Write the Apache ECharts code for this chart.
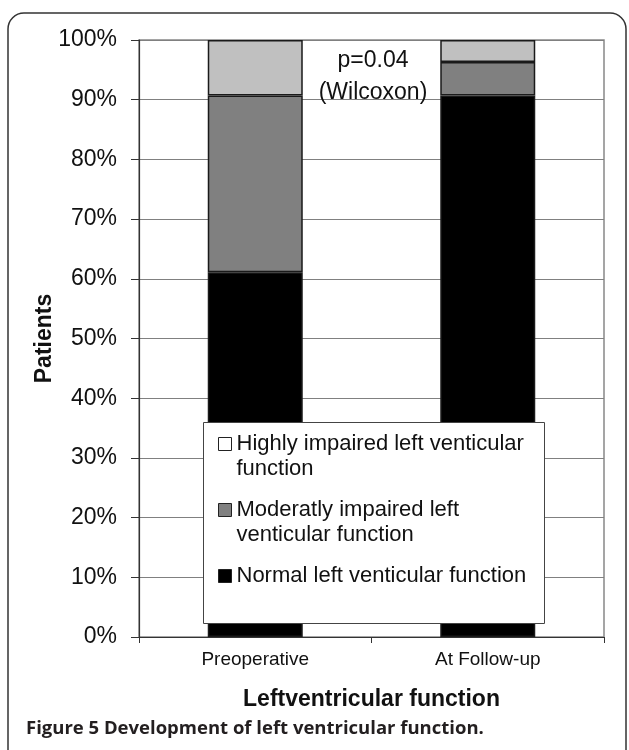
<!DOCTYPE html>
<html><head><meta charset="utf-8">
<script src="https://cdn.jsdelivr.net/npm/echarts@6/dist/echarts.min.js"></script>
<style>html,body{margin:0;padding:0;background:#fff}#c{width:629px;height:750px}</style>
</head><body><div id="c"></div>
<script>
// ---- data ----
const categories = ['Preoperative', 'At Follow-up'];
const seriesNames = [
  'Normal left venticular function',
  'Moderatly impaired left venticular function',
  'Highly impaired left venticular function'
];
const normalValues = [61.1, 90.7];
const moderateValues = [29.6, 5.6];
const highlyValues = [9.3, 3.7];
const legendLines = [
  'Normal left venticular function',
  'Moderatly impaired left\nventicular function',
  'Highly impaired left venticular\nfunction'
];
const yMin = 0, yMax = 100, yStep = 10;
const annotationText = 'p=0.04\n(Wilcoxon)';
const captionBold = 'Figure 5';
const captionRest = ' Development of left ventricular function.';
const xTitle = 'Leftventricular function';
const yTitle = 'Patients';

// ---- chart ----
const FONT = '"Liberation Sans", Arial, sans-serif';
const colors = ['#000000', '#808080', '#c0c0c0'];
const legendIconColors = ['#000000', '#808080', '#ffffff'];
const seriesValues = [normalValues, moderateValues, highlyValues];

const chart = echarts.init(document.getElementById('c'), null, {renderer: 'canvas'});
const wrapMap = {};
// every entry is padded to three lines with the first text line in the middle,
// so the icon sits beside the first text line and all items share the same offset
seriesNames.forEach((n, i) => {
  wrapMap[n] = legendLines[i].indexOf('\n') >= 0 ? '\n' + legendLines[i] : '\n' + legendLines[i] + '\n';
});

const legendData = [2, 1, 0].map(i => ({
  name: seriesNames[i],
  itemStyle: {color: legendIconColors[i], borderColor: '#222', borderWidth: 1}
}));

chart.setOption({
  animation: false,
  backgroundColor: '#fff',
  title: {
    left: 26, top: 719, padding: 0,
    text: '{b|' + captionBold + '}{r|' + captionRest + '}',
    textStyle: {
      rich: {
        b: {fontFamily: '"Open Sans", sans-serif', fontWeight: 'bold', fontSize: 18.5, color: '#231f20'},
        r: {fontFamily: '"Open Sans", sans-serif', fontSize: 18.5, color: '#231f20'}
      }
    }
  },
  grid: {
    left: 139, right: 25, top: 40, bottom: 113,
    show: true, borderColor: '#888', borderWidth: 1.5, backgroundColor: 'transparent'
  },
  legend: {
    orient: 'vertical',
    left: 218, top: 406.5,
    padding: 0,
    itemGap: -9,
    itemWidth: 13, itemHeight: 13,
    selectedMode: false,
    icon: 'rect',
    z: 6,
    data: legendData,
    formatter: name => wrapMap[name],
    textStyle: {fontFamily: FONT, fontSize: 22, lineHeight: 25, color: '#111'}
  },
  xAxis: {
    type: 'category',
    data: categories,
    name: xTitle,
    nameLocation: 'middle',
    nameGap: 51,
    nameMoveOverlap: false,
    nameTextStyle: {fontFamily: FONT, fontSize: 23, fontWeight: 'bold', color: '#111'},
    axisLine: {lineStyle: {color: '#333', width: 1}},
    axisTick: {show: true, length: 6, lineStyle: {color: '#333'}},
    axisLabel: {fontFamily: FONT, fontSize: 19, color: '#111', margin: 13}
  },
  yAxis: {
    type: 'value',
    min: yMin, max: yMax, interval: yStep,
    name: yTitle,
    nameLocation: 'middle',
    nameRotate: 90,
    nameGap: 83,
    nameMoveOverlap: false,
    nameTextStyle: {fontFamily: FONT, fontSize: 23, fontWeight: 'bold', color: '#111'},
    axisLine: {show: true, lineStyle: {color: '#333', width: 1.2}},
    axisTick: {show: true, length: 8, lineStyle: {color: '#333'}},
    axisLabel: {fontFamily: FONT, fontSize: 23, color: '#111', margin: 22, formatter: '{value}%'},
    splitLine: {lineStyle: {color: '#808080', width: 1}}
  },
  series: seriesNames.map((n, i) => ({
    name: n,
    type: 'bar',
    stack: 'total',
    barWidth: 95,
    data: seriesValues[i],
    itemStyle: {color: colors[i], borderColor: '#1a1a1a', borderWidth: 1.5}
  })),
  graphic: [
    {
      type: 'rect', silent: true, z: 100,
      shape: {x: 8, y: 13, width: 618, height: 820, r: 16},
      style: {fill: 'none', stroke: '#333', lineWidth: 1.5}
    },
    {
      type: 'rect', silent: true, z: 5,
      shape: {x: 203.5, y: 422.5, width: 341, height: 201},
      style: {fill: '#fff', stroke: '#444', lineWidth: 1}
    },
    {
      type: 'text', z: 50,
      x: 373, y: 45,
      style: {
        text: annotationText,
        fontFamily: FONT, fontSize: 23, lineHeight: 32,
        fill: '#111', align: 'center', verticalAlign: 'top'
      }
    }
  ]
});
</script></body></html>
